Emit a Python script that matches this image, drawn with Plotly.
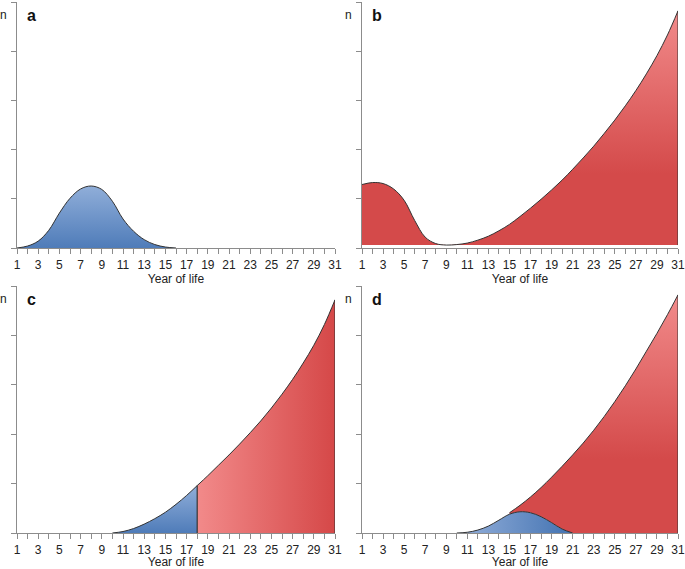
import plotly.graph_objects as go
from plotly.subplots import make_subplots

# ---------------- data ----------------
years_a = list(range(1, 17))
vals_a = [0, 0.04, 0.14, 0.36, 0.71, 1.01, 1.2, 1.26, 1.19, 0.95, 0.59, 0.34, 0.17, 0.07, 0.02, 0.0]

years_b = list(range(1, 32))
vals_b = [1.29, 1.33, 1.31, 1.2, 0.97, 0.56, 0.22, 0.09, 0.06, 0.07, 0.1, 0.16, 0.24, 0.35, 0.48,
          0.64, 0.81, 0.99, 1.18, 1.38, 1.6, 1.83, 2.07, 2.33, 2.6, 2.89, 3.2, 3.54, 3.91, 4.33, 4.82]
base_b = 0.06

years_c = list(range(10, 32))
vals_c = [0, 0.03, 0.09, 0.18, 0.29, 0.42, 0.58, 0.76, 0.96, 1.16, 1.37, 1.58, 1.8, 2.03, 2.27,
          2.53, 2.81, 3.11, 3.44, 3.8, 4.22, 4.72]
split_c = 18

years_d = list(range(10, 32))
growth_d = [0, 0.015, 0.06, 0.14, 0.26, 0.41, 0.56, 0.73, 0.92, 1.13, 1.35, 1.58, 1.82, 2.08, 2.36,
            2.66, 2.98, 3.32, 3.68, 4.04, 4.42, 4.82]
years_hump = list(range(10, 22))
hump_d = [0, 0.015, 0.06, 0.14, 0.26, 0.38, 0.43, 0.41, 0.33, 0.21, 0.08, 0.0]
split_d = 15

panel_letters = ["a", "b", "c", "d"]
x_title = "Year of life"
y_label = "n"

# ---------------- style ----------------
BLUE_CS = [[0, "#4f7cb9"], [1, "#90aed9"]]
BLUE_CS_H = [[0, "#8eabd7"], [1, "#4a78b5"]]
RED_CS_V = [[0, "#d44a4a"], [1, "#f28c8c"]]
RED_CS_H = [[0, "#f28a8a"], [1, "#d54848"]]
EDGE = "#333333"
AXC = "#8c8c8c"
FONT = "Liberation Sans, Arial, sans-serif"

fig = make_subplots(rows=2, cols=2)

line = dict(color=EDGE, width=1, shape="spline", smoothing=1.0)

# panel a
fig.add_trace(go.Scatter(x=years_a, y=vals_a, mode="lines", line=line, fill="tozeroy",
                         fillgradient=dict(type="vertical", colorscale=BLUE_CS, start=0, stop=max(vals_a))),
              row=1, col=1)

# panel b
fig.add_trace(go.Scatter(x=years_b, y=[base_b] * len(years_b), mode="lines",
                         line=dict(width=0), hoverinfo="skip"), row=1, col=2)
fig.add_trace(go.Scatter(x=years_b, y=vals_b, mode="lines", line=line, fill="tonexty",
                         fillgradient=dict(type="vertical", colorscale=RED_CS_V, start=1.5, stop=4.9)),
              row=1, col=2)
fig.add_trace(go.Scatter(x=[years_b[-1]] * 2, y=[base_b, vals_b[-1]], mode="lines",
                         line=dict(color=EDGE, width=1)), row=1, col=2)

# panel c
i = years_c.index(split_c)
fig.add_trace(go.Scatter(x=years_c[:i + 1], y=vals_c[:i + 1], mode="lines", line=line, fill="tozeroy",
                         fillgradient=dict(type="vertical", colorscale=BLUE_CS, start=0, stop=vals_c[i])),
              row=2, col=1)
fig.add_trace(go.Scatter(x=years_c[i:], y=vals_c[i:], mode="lines", line=line, fill="tozeroy",
                         fillgradient=dict(type="horizontal", colorscale=RED_CS_H,
                                           start=years_c[i], stop=years_c[-1])),
              row=2, col=1)
fig.add_trace(go.Scatter(x=[years_c[i]] * 2, y=[0, vals_c[i]], mode="lines",
                         line=dict(color=EDGE, width=1.2)), row=2, col=1)
fig.add_trace(go.Scatter(x=[years_c[-1]] * 2, y=[0, vals_c[-1]], mode="lines",
                         line=dict(color=EDGE, width=1)), row=2, col=1)

# panel d
j = years_d.index(split_d)
lower = [hump_d[years_hump.index(y)] if y in years_hump else 0 for y in years_d[j:]]
fig.add_trace(go.Scatter(x=years_d[j:], y=lower, mode="lines",
                         line=dict(width=0, shape="spline"), hoverinfo="skip"), row=2, col=2)
fig.add_trace(go.Scatter(x=years_d[j:], y=growth_d[j:], mode="lines", line=line, fill="tonexty",
                         fillgradient=dict(type="vertical", colorscale=RED_CS_V, start=1.5, stop=4.9)),
              row=2, col=2)
fig.add_trace(go.Scatter(x=[years_d[-1]] * 2, y=[0, growth_d[-1]], mode="lines",
                         line=dict(color=EDGE, width=1)), row=2, col=2)
fig.add_trace(go.Scatter(x=years_hump, y=hump_d, mode="lines", line=line, fill="tozeroy",
                         fillgradient=dict(type="horizontal", colorscale=BLUE_CS_H,
                                           start=11, stop=20)),
              row=2, col=2)

# ---------------- layout ----------------
W, H = 685, 569
ml, mr, mt, mb = 17, 7, 2, 36
pw, ph = W - ml - mr, H - mt - mb


def px_x(p):
    return (p - ml) / pw


def px_y(p):
    return (H - mb - p) / ph


xdom = [[px_x(17), px_x(335)], [px_x(362), px_x(678)]]
ydom = [[px_y(248), px_y(2)], [px_y(533), px_y(286)]]

axes_map = {(1, 1): ("xaxis", "yaxis"), (1, 2): ("xaxis2", "yaxis2"),
            (2, 1): ("xaxis3", "yaxis3"), (2, 2): ("xaxis4", "yaxis4")}

for (r, c), (xa, ya) in axes_map.items():
    fig.layout[xa].update(
        domain=xdom[c - 1], range=[1, 31], tick0=1, dtick=2, ticks="outside", ticklen=5,
        tickcolor=AXC, tickwidth=1, showline=True, linecolor=AXC, linewidth=1.2,
        showgrid=False, zeroline=False, automargin=False,
        tickfont=dict(family=FONT, size=12, color="#222"),
        minor=dict(tick0=1, dtick=1, ticks="outside", ticklen=5, tickcolor=AXC, tickwidth=1, showgrid=False),
        title=dict(text=x_title, font=dict(family=FONT, size=12, color="#222"), standoff=4),
    )
    fig.layout[ya].update(
        domain=ydom[r - 1], range=[0, 5], tick0=0, dtick=1, ticks="outside", ticklen=5,
        tickcolor=AXC, tickwidth=1, showline=True, linecolor=AXC, linewidth=1.2,
        showgrid=False, zeroline=False, showticklabels=False, automargin=False,
    )

ann = []
pos = [(17, 2), (362, 2), (17, 286), (362, 286)]
for letter, (x0, y0) in zip(panel_letters, pos):
    ann.append(dict(x=px_x(x0 - 14), y=px_y(y0 + 13), xref="paper", yref="paper", text=y_label,
                    showarrow=False, xanchor="center", yanchor="middle",
                    font=dict(family=FONT, size=12, color="#222")))
    ann.append(dict(x=px_x(x0 + 14.5), y=px_y(y0 + 13.5), xref="paper", yref="paper",
                    text="<b>%s</b>" % letter, showarrow=False, xanchor="center", yanchor="middle",
                    font=dict(family=FONT, size=16, color="#111")))

fig.update_layout(
    width=W, height=H, margin=dict(l=ml, r=mr, t=mt, b=mb, autoexpand=False),
    paper_bgcolor="white", plot_bgcolor="white", showlegend=False, annotations=ann,
)

fig.write_html("out.html", config={"displayModeBar": False},
               post_script="document.body.style.margin='0';document.body.style.overflow='hidden';")
